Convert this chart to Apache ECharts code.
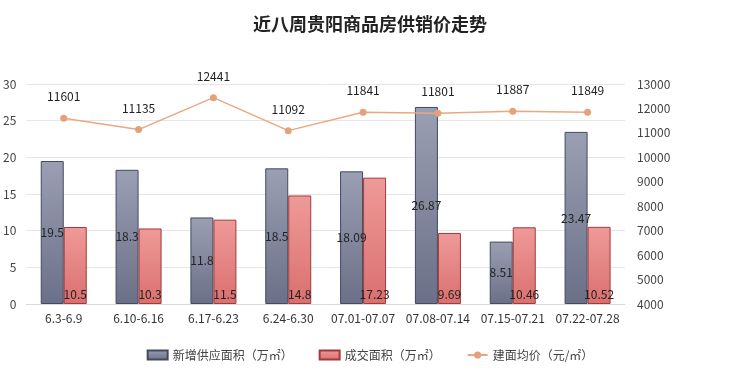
<!DOCTYPE html>
<html><head><meta charset="utf-8">
<script src="https://cdn.jsdelivr.net/npm/echarts@6/dist/echarts.min.js"></script>
<style>html,body{margin:0;padding:0;background:#fff}#c{width:740px;height:374px}</style>
</head><body><div id="c"></div>
<script>
const categories = ['6.3-6.9','6.10-6.16','6.17-6.23','6.24-6.30','07.01-07.07','07.08-07.14','07.15-07.21','07.22-07.28'];
const supply = [19.5, 18.3, 11.8, 18.5, 18.09, 26.87, 8.51, 23.47];
const deals = [10.5, 10.3, 11.5, 14.8, 17.23, 9.69, 10.46, 10.52];
const price = [11601, 11135, 12441, 11092, 11841, 11801, 11887, 11849];
const leftTicks = {min:0, max:30, interval:5};
const rightTicks = {min:4000, max:13000, interval:1000};

const chart = echarts.init(document.getElementById('c'));
const font = '"Microsoft YaHei","Noto Sans CJK SC",sans-serif';
chart.setOption({
  animation:false,
  textStyle:{fontFamily:font},
  title:{text:'近八周贵阳商品房供销价走势', left:'center', top:10,
    textStyle:{fontSize:18, fontWeight:'bold', color:'#222', fontFamily:font}},
  legend:{bottom:8, left:'center', itemGap:26, itemWidth:20, itemHeight:9,
    textStyle:{fontSize:12, color:'#444'},
    data:[{name:'新增供应面积（万㎡）', icon:'rect'},{name:'成交面积（万㎡）', icon:'rect'},{name:'建面均价（元/㎡）'}]},
  grid:{left:25, right:115, top:84, bottom:70},
  xAxis:{type:'category', data:categories,
    axisLine:{lineStyle:{color:'#d9d9d9'}}, axisTick:{show:false},
    axisLabel:{color:'#333', fontSize:12, margin:8, interval:0}},
  yAxis:[
    {type:'value', min:leftTicks.min, max:leftTicks.max, interval:leftTicks.interval,
     axisLabel:{color:'#444', fontSize:12, margin:10},
     splitLine:{lineStyle:{color:'#e6e6e6'}}, axisLine:{show:false}, axisTick:{show:false}},
    {type:'value', min:rightTicks.min, max:rightTicks.max, interval:rightTicks.interval,
     axisLabel:{color:'#444', fontSize:12, margin:12, formatter:v => String(v)},
     splitLine:{show:false}, axisLine:{show:false}, axisTick:{show:false}}
  ],
  series:[
    {name:'新增供应面积（万㎡）', type:'bar', data:supply, barWidth:23, barGap:'0%',
     itemStyle:{color:new echarts.graphic.LinearGradient(0,0,0,1,[{offset:0,color:'#9a9fb3'},{offset:1,color:'#6b7088'}]),
       borderColor:'#444a60', borderWidth:1},
     label:{show:true, position:'inside', color:'#222', fontSize:12}},
    {name:'成交面积（万㎡）', type:'bar', data:deals, barWidth:23,
     itemStyle:{color:new echarts.graphic.LinearGradient(0,0,0,1,[{offset:0,color:'#ef9a98'},{offset:1,color:'#d9706f'}]),
       borderColor:'#a03a3c', borderWidth:1},
     label:{show:true, position:'insideBottom', distance:4, color:'#222', fontSize:12}},
    {name:'建面均价（元/㎡）', type:'line', yAxisIndex:1, data:price,
     symbol:'circle', symbolSize:7,
     lineStyle:{color:'#e9a87f', width:1.5}, itemStyle:{color:'#e3a27c'},
     label:{show:true, position:'top', distance:12, color:'#222', fontSize:12}}
  ]
});
</script></body></html>
